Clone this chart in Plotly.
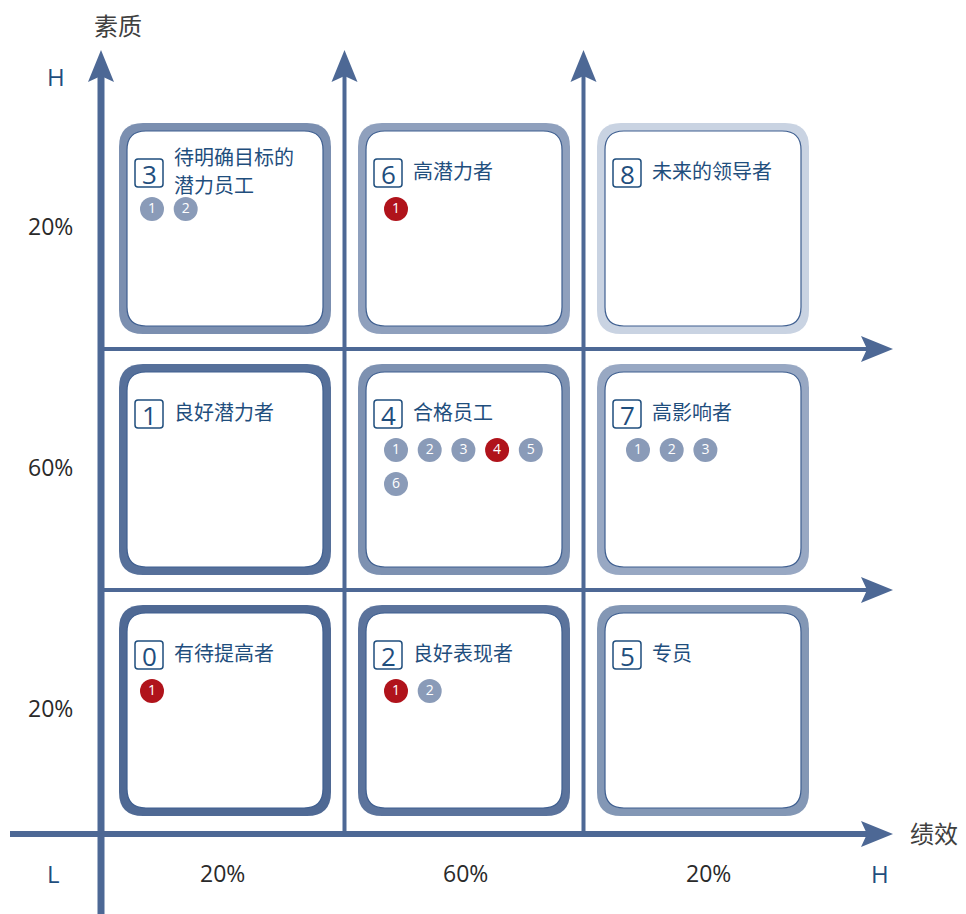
import plotly.graph_objects as go

# ---------------- data ----------------
box_ids = [3, 6, 8, 1, 4, 7, 0, 2, 5]          # grid order: top row left->right, then middle, bottom
box_titles = ["待明确目标的<br>潜力员工", "高潜力者", "未来的领导者",
              "良好潜力者", "合格员工", "高影响者",
              "有待提高者", "良好表现者", "专员"]
employee_counts = [2, 1, 0, 0, 6, 3, 1, 2, 0]
highlighted = [None, 1, None, None, 4, None, 1, 1, None]   # which numbered employee is highlighted
row_shares = ["20%", "60%", "20%"]     # top -> bottom (素质)
col_shares = ["20%", "60%", "20%"]     # left -> right (绩效)
y_axis_title = "素质"
x_axis_title = "绩效"
high_label, low_label = "H", "L"

# ---------------- styles ----------------
BORDER_COLORS = ["#7b8fb0", "#8fa0bd", "#c9d3e2",
                 "#56709a", "#7d91b1", "#98a8c3",
                 "#4f6994", "#5b739c", "#8397b5"]
AXIS_COLOR = "#4d6895"
TEXT_BLUE = "#1f4e7d"
GREY_DOT = "#8a9bb8"
RED_DOT = "#b0131b"
CJK = "Noto Sans CJK SC"
PAGE_OFFSET = 8   # browser body margin; data coords == page pixels

# geometry (pixels, y downward)
BOX_X0, BOX_Y0 = 119, 123
BOX_W, BOX_H = 212, 211
PITCH_X, PITCH_Y = 239, 241
LABEL_PITCH_X = 243
BORDER = 8
DOT_INSET = [33, 38, 41]   # per column
DOT_STEP = 33.7

fig = go.Figure()
shapes = []
annotations = []


def rrect(x0, y0, x1, y1, r):
    return (f"M{x0+r},{y0} L{x1-r},{y0} Q{x1},{y0} {x1},{y0+r} "
            f"L{x1},{y1-r} Q{x1},{y1} {x1-r},{y1} L{x0+r},{y1} "
            f"Q{x0},{y1} {x0},{y1-r} L{x0},{y0+r} Q{x0},{y0} {x0+r},{y0} Z")


def arrow_up(x, tip_y, w=13, h=32, notch=6):
    return f"M{x},{tip_y} L{x+w},{tip_y+h} L{x},{tip_y+h-notch} L{x-w},{tip_y+h} Z"


def arrow_right(y, tip_x, w=13, h=32, notch=6):
    return f"M{tip_x},{y} L{tip_x-h},{y-w} L{tip_x-h+notch},{y} L{tip_x-h},{y+w} Z"


# grid lines
main_x = BOX_X0 - 18
main_y = BOX_Y0 + 2 * PITCH_Y + BOX_H + 18
tip_y = 50
tip_x = 893
v_lines = [main_x] + [BOX_X0 + i * PITCH_X + BOX_W + (PITCH_X - BOX_W) / 2 for i in range(2)]
h_lines = [BOX_Y0 + i * PITCH_Y + BOX_H + (PITCH_Y - BOX_H) / 2 for i in range(2)] + [main_y]

for i, x in enumerate(v_lines):
    is_main = i == 0
    shapes.append(dict(type="line", x0=x, x1=x, y0=930 if is_main else main_y, y1=tip_y + 20,
                       line=dict(color=AXIS_COLOR, width=7 if is_main else 4), layer="below"))
    shapes.append(dict(type="path", path=arrow_up(x, tip_y), fillcolor=AXIS_COLOR,
                       line=dict(width=0), layer="below"))
for i, y in enumerate(h_lines):
    is_main = i == 2
    shapes.append(dict(type="line", x0=10 if is_main else main_x, x1=tip_x - 20, y0=y, y1=y,
                       line=dict(color=AXIS_COLOR, width=6 if is_main else 4), layer="below"))
    shapes.append(dict(type="path", path=arrow_right(y, tip_x), fillcolor=AXIS_COLOR,
                       line=dict(width=0), layer="below"))

# boxes
dot_x, dot_y, dot_col, dot_txt = [], [], [], []
for k, (bid, title) in enumerate(zip(box_ids, box_titles)):
    r, c = divmod(k, 3)
    x0 = BOX_X0 + c * PITCH_X
    y0 = BOX_Y0 + r * PITCH_Y
    x1, y1 = x0 + BOX_W, y0 + BOX_H
    shapes.append(dict(type="path", path=rrect(x0, y0, x1, y1, 24), fillcolor=BORDER_COLORS[k],
                       line=dict(width=0), layer="below"))
    shapes.append(dict(type="path", path=rrect(x0 + BORDER, y0 + BORDER, x1 - BORDER, y1 - BORDER, 19),
                       fillcolor="white", line=dict(color="#3f5f90", width=1.2), layer="below"))
    # number badge
    ty = y0 + 50
    shapes.append(dict(type="path", path=rrect(x0 + 16, ty - 14, x0 + 44, ty + 14, 3),
                       fillcolor="white", line=dict(color=TEXT_BLUE, width=1.5), layer="below"))
    annotations.append(dict(x=x0 + 30, y=ty + 1, text=str(bid), showarrow=False,
                            font=dict(family="Open Sans", size=26, color=TEXT_BLUE),
                            xanchor="center", yanchor="middle"))
    lines = title.split("<br>")
    for li, line in enumerate(lines):
        ly = ty - 3 + (li - (len(lines) - 1) / 2) * 28
        annotations.append(dict(x=x0 + 53, y=ly, text=line, showarrow=False, align="left",
                                font=dict(family=CJK, size=20, color=TEXT_BLUE),
                                xanchor="left", yanchor="middle"))
    # employee dots
    for n in range(employee_counts[k]):
        rr, cc = divmod(n, 5)
        dot_x.append(x0 + DOT_INSET[c] + cc * DOT_STEP)
        dot_y.append(y0 + 86 + rr * 34)
        dot_col.append(RED_DOT if highlighted[k] == n + 1 else GREY_DOT)
        dot_txt.append(str(n + 1))

fig.add_trace(go.Scatter(x=dot_x, y=dot_y, mode="markers+text", text=dot_txt,
                         textposition="middle center",
                         marker=dict(size=24, color=dot_col, line=dict(width=0)),
                         textfont=dict(family="Open Sans", size=14, color="white"),
                         hoverinfo="skip", showlegend=False))

# share labels
for r, s in enumerate(row_shares):
    annotations.append(dict(x=50, y=BOX_Y0 + r * PITCH_Y + 103, text=s, showarrow=False,
                            font=dict(family="Open Sans", size=23, color="#2a2a2a")))
for c, s in enumerate(col_shares):
    annotations.append(dict(x=BOX_X0 + c * LABEL_PITCH_X + 103, y=873, text=s, showarrow=False,
                            font=dict(family="Open Sans", size=23, color="#2a2a2a")))

# axis titles and H/L
annotations += [
    dict(x=118, y=24, text=y_axis_title, showarrow=False,
         font=dict(family=CJK, size=24, color="#404040")),
    dict(x=934, y=832, text=x_axis_title, showarrow=False,
         font=dict(family=CJK, size=24, color="#404040")),
    dict(x=56, y=76, text=high_label, showarrow=False,
         font=dict(family="Open Sans", size=24, color=TEXT_BLUE)),
    dict(x=53, y=873, text=low_label, showarrow=False,
         font=dict(family="Open Sans", size=24, color=TEXT_BLUE)),
    dict(x=880, y=873, text=high_label, showarrow=False,
         font=dict(family="Open Sans", size=24, color=TEXT_BLUE)),
]

fig.update_layout(
    width=966, height=914, margin=dict(l=0, r=0, t=0, b=0),
    paper_bgcolor="white", plot_bgcolor="white",
    xaxis=dict(range=[PAGE_OFFSET, 966 + PAGE_OFFSET], visible=False, fixedrange=True),
    yaxis=dict(range=[914 + PAGE_OFFSET, PAGE_OFFSET], visible=False, fixedrange=True),
    shapes=shapes, annotations=annotations, showlegend=False,
)

fig.write_html("out.html")
